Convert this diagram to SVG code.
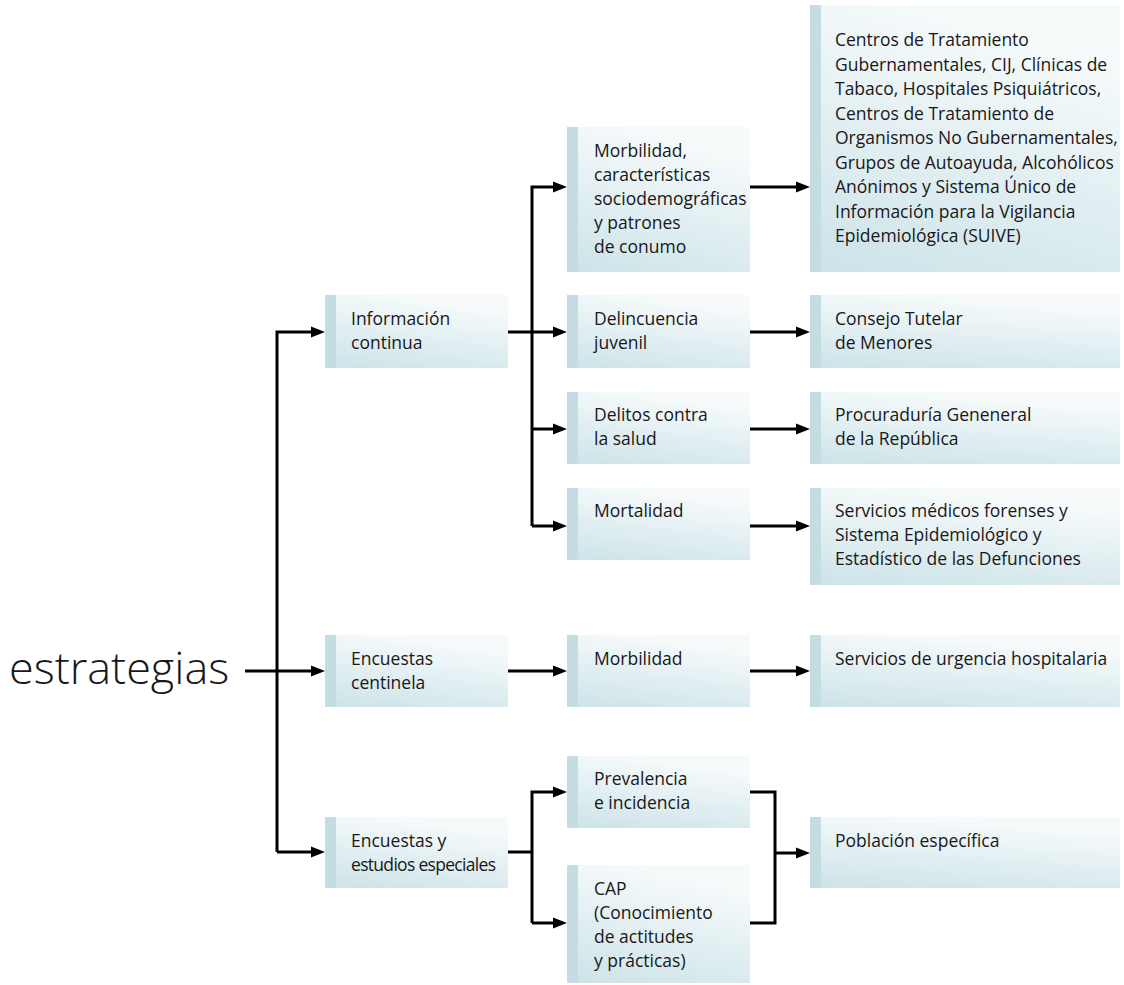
<svg xmlns="http://www.w3.org/2000/svg" width="1124" height="985" viewBox="0 0 1124 985">
  <style>
    .box { fill: url(#boxfill); }
    .strip { fill: #c4dde2; }
    .t { font-family: "Open Sans", "Noto Sans", "Liberation Sans", sans-serif; font-size: 17.5px; fill: #1a1718; font-weight: 500; }
    .big { font-family: "Open Sans", "Noto Sans", "Liberation Sans", sans-serif; font-size: 45px; fill: #1a1718; font-weight: 300; }
    .c { fill: none; stroke: #000; stroke-width: 3; }
  </style>
  <defs>
    <linearGradient id="boxfill" x1="0.35" y1="0" x2="0" y2="1">
      <stop offset="0" stop-color="#f6fafb"/>
      <stop offset="1" stop-color="#cce3e8"/>
    </linearGradient>
    <marker id="ah" markerUnits="userSpaceOnUse" markerWidth="15" markerHeight="12" refX="3" refY="6" orient="auto">
      <path d="M0,0.5 L14,6 L0,11.5 z" fill="#000"/>
    </marker>
  </defs>
  <rect width="1124" height="985" fill="#fff"/>

  <text class="big" x="9" y="684">estrategias</text>

  <g id="n-info">
    <rect class="box" x="325" y="295" width="183" height="73"/><rect class="strip" x="325" y="295" width="11" height="73"/>
    <text class="t" x="351" y="325">Información</text><text class="t" x="351" y="349">continua</text>
  </g>
  <g id="n-centinela">
    <rect class="box" x="325" y="635" width="183" height="72"/><rect class="strip" x="325" y="635" width="11" height="72"/>
    <text class="t" x="351" y="665">Encuestas</text><text class="t" x="351" y="689">centinela</text>
  </g>
  <g id="n-especiales">
    <rect class="box" x="325" y="817" width="183" height="71"/><rect class="strip" x="325" y="817" width="11" height="71"/>
    <text class="t" x="351" y="847">Encuestas y</text><text class="t" x="351" y="871" textLength="145" lengthAdjust="spacing">estudios especiales</text>
  </g>

  <g id="n-morb1">
    <rect class="box" x="567" y="127" width="183" height="145"/><rect class="strip" x="567" y="127" width="11" height="145"/>
    <text class="t" x="594" y="157">Morbilidad,</text><text class="t" x="594" y="181">características</text><text class="t" x="594" y="205">sociodemográficas</text><text class="t" x="594" y="229">y patrones</text><text class="t" x="594" y="253">de conumo</text>
  </g>
  <g id="n-delinc">
    <rect class="box" x="567" y="295" width="183" height="73"/><rect class="strip" x="567" y="295" width="11" height="73"/>
    <text class="t" x="594" y="325">Delincuencia</text><text class="t" x="594" y="349">juvenil</text>
  </g>
  <g id="n-delitos">
    <rect class="box" x="567" y="392" width="183" height="72"/><rect class="strip" x="567" y="392" width="11" height="72"/>
    <text class="t" x="594" y="421">Delitos contra</text><text class="t" x="594" y="445">la salud</text>
  </g>
  <g id="n-mortal">
    <rect class="box" x="567" y="488" width="183" height="72"/><rect class="strip" x="567" y="488" width="11" height="72"/>
    <text class="t" x="594" y="517">Mortalidad</text>
  </g>
  <g id="n-morb2">
    <rect class="box" x="567" y="635" width="183" height="72"/><rect class="strip" x="567" y="635" width="11" height="72"/>
    <text class="t" x="594" y="665">Morbilidad</text>
  </g>
  <g id="n-preval">
    <rect class="box" x="567" y="756" width="183" height="72"/><rect class="strip" x="567" y="756" width="11" height="72"/>
    <text class="t" x="594" y="785">Prevalencia</text><text class="t" x="594" y="809">e incidencia</text>
  </g>
  <g id="n-cap">
    <rect class="box" x="567" y="865" width="183" height="118"/><rect class="strip" x="567" y="865" width="11" height="118"/>
    <text class="t" x="594" y="895">CAP</text><text class="t" x="594" y="919">(Conocimiento</text><text class="t" x="594" y="943">de actitudes</text><text class="t" x="594" y="967">y prácticas)</text>
  </g>

  <g id="n-centros">
    <rect class="box" x="810" y="5" width="310" height="267"/><rect class="strip" x="810" y="5" width="11" height="267"/>
    <text class="t" x="835" y="46">Centros de Tratamiento</text>
    <text class="t" x="835" y="70.5">Gubernamentales, CIJ, Clínicas de</text>
    <text class="t" x="835" y="95">Tabaco, Hospitales Psiquiátricos,</text>
    <text class="t" x="835" y="119.5">Centros de Tratamiento de</text>
    <text class="t" x="835" y="144">Organismos No Gubernamentales,</text>
    <text class="t" x="835" y="168.5">Grupos de Autoayuda, Alcohólicos</text>
    <text class="t" x="835" y="193">Anónimos y Sistema Único de</text>
    <text class="t" x="835" y="217.5">Información para la Vigilancia</text>
    <text class="t" x="835" y="242">Epidemiológica (SUIVE)</text>
  </g>
  <g id="n-consejo">
    <rect class="box" x="810" y="295" width="310" height="73"/><rect class="strip" x="810" y="295" width="11" height="73"/>
    <text class="t" x="835" y="325">Consejo Tutelar</text><text class="t" x="835" y="349">de Menores</text>
  </g>
  <g id="n-procu">
    <rect class="box" x="810" y="392" width="310" height="72"/><rect class="strip" x="810" y="392" width="11" height="72"/>
    <text class="t" x="835" y="421">Procuraduría Geneneral</text><text class="t" x="835" y="445">de la República</text>
  </g>
  <g id="n-forenses">
    <rect class="box" x="810" y="488" width="310" height="97"/><rect class="strip" x="810" y="488" width="11" height="97"/>
    <text class="t" x="835" y="517">Servicios médicos forenses y</text><text class="t" x="835" y="541">Sistema Epidemiológico y</text><text class="t" x="835" y="565">Estadístico de las Defunciones</text>
  </g>
  <g id="n-urgencia">
    <rect class="box" x="810" y="635" width="310" height="72"/><rect class="strip" x="810" y="635" width="11" height="72"/>
    <text class="t" x="835" y="665">Servicios de urgencia hospitalaria</text>
  </g>
  <g id="n-poblacion">
    <rect class="box" x="810" y="817" width="310" height="71"/><rect class="strip" x="810" y="817" width="11" height="71"/>
    <text class="t" x="835" y="847">Población específica</text>
  </g>

  <g id="connectors">
    <path class="c" d="M245,671 H314" marker-end="url(#ah)"/>
    <path class="c" d="M277,852 V332 H314" marker-end="url(#ah)"/>
    <path class="c" d="M277,852 H314" marker-end="url(#ah)"/>
    <path class="c" d="M508,332 H556" marker-end="url(#ah)"/>
    <path class="c" d="M532,526 V187 H556" marker-end="url(#ah)"/>
    <path class="c" d="M532,429 H556" marker-end="url(#ah)"/>
    <path class="c" d="M532,526 H556" marker-end="url(#ah)"/>
    <path class="c" d="M750,187 H799" marker-end="url(#ah)"/>
    <path class="c" d="M750,332 H799" marker-end="url(#ah)"/>
    <path class="c" d="M750,429 H799" marker-end="url(#ah)"/>
    <path class="c" d="M750,526 H799" marker-end="url(#ah)"/>
    <path class="c" d="M508,671 H556" marker-end="url(#ah)"/>
    <path class="c" d="M750,671 H799" marker-end="url(#ah)"/>
    <path class="c" d="M508,852 H532"/>
    <path class="c" d="M532,923 V792 H556" marker-end="url(#ah)"/>
    <path class="c" d="M532,923 H556" marker-end="url(#ah)"/>
    <path class="c" d="M750,792 H775 V923 H750"/>
    <path class="c" d="M775,853 H799" marker-end="url(#ah)"/>
  </g>
</svg>
